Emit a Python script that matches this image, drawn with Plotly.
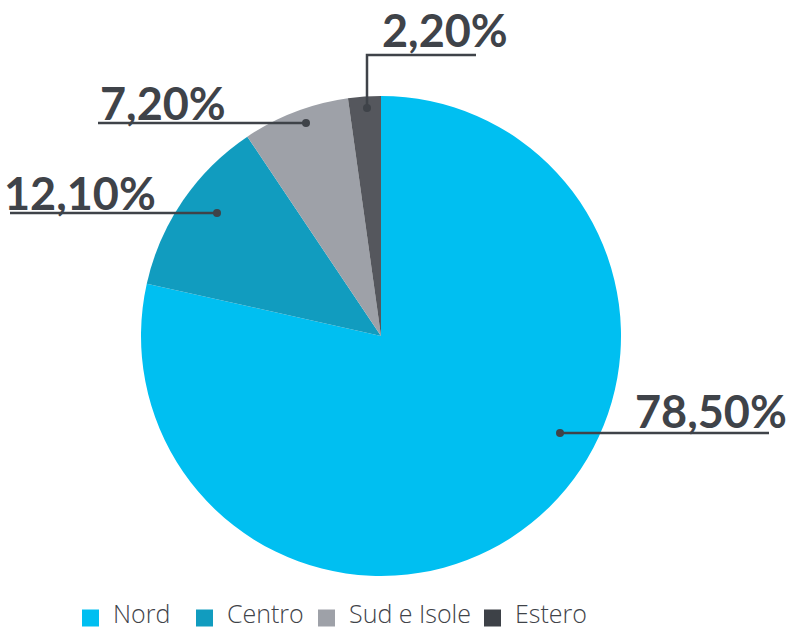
import plotly.graph_objects as go

# ==================================
# DATA
# ==================================

regions = ["Nord", "Centro", "Sud e Isole", "Estero"]
shares = [78.5, 12.1, 7.2, 2.2]
share_labels = ["78,50%", "12,10%", "7,20%", "2,20%"]
colors = ["#00bff1", "#119cbf", "#9ea1a8", "#55575d"]
legend_colors = ["#00bff1", "#119cbf", "#9ea1a8", "#3d4147"]

W, H = 793, 632
TEXT = "#3f4349"

# callouts in pixel space: dot, elbow points, label centre
callouts = {
    "78,50%": dict(path=[(560, 433), (769, 433)], text=(711, 411)),
    "12,10%": dict(path=[(217, 213), (10, 213)], text=(80, 193)),
    "7,20%": dict(path=[(306, 123), (98, 123)], text=(163, 103)),
    "2,20%": dict(path=[(367, 108), (367, 55), (476, 55)], text=(445, 30)),
}

# legend swatch left edges (px) and row centre
legend_x = [82, 196, 318, 484]
legend_y = 618
SWATCH = 17


def px_(x):
    return x / W


def py_(y):
    return 1 - y / H


# ==================================
# PIE
# ==================================

fig = go.Figure()

fig.add_trace(go.Pie(
    labels=regions,
    values=shares,
    sort=False,
    direction="clockwise",
    rotation=0,
    textinfo="none",
    hoverinfo="label+percent",
    marker=dict(colors=colors, line=dict(width=0)),
    domain=dict(x=[px_(141), px_(621)], y=[py_(576), py_(96)]),
    showlegend=False,
))

# ==================================
# CALLOUTS
# ==================================

for label in share_labels:
    c = callouts[label]
    pts = c["path"]
    d = "M " + " L ".join(f"{px_(x)},{py_(y)}" for x, y in pts)
    fig.add_shape(type="path", path=d, xref="paper", yref="paper",
                  line=dict(color=TEXT, width=2.5))
    dx, dy = pts[0]
    r = 4
    fig.add_shape(type="circle", xref="paper", yref="paper",
                  x0=px_(dx - r), x1=px_(dx + r), y0=py_(dy + r), y1=py_(dy - r),
                  fillcolor=TEXT, line=dict(width=0))
    tx, ty = c["text"]
    fig.add_annotation(
        x=px_(tx), y=py_(ty), xref="paper", yref="paper",
        text=f"<b>{label}</b>", showarrow=False,
        xanchor="center", yanchor="middle",
        font=dict(family="Lato", size=45, color=TEXT, weight=900),
    )

# ==================================
# LEGEND
# ==================================

for name, col, lx in zip(regions, legend_colors, legend_x):
    fig.add_shape(type="rect", xref="paper", yref="paper",
                  x0=px_(lx), x1=px_(lx + SWATCH),
                  y0=py_(legend_y + SWATCH / 2), y1=py_(legend_y - SWATCH / 2),
                  fillcolor=col, line=dict(width=0))
    fig.add_annotation(
        x=px_(lx + SWATCH + 12), y=0, xref="paper", yref="paper",
        text=name, showarrow=False, xanchor="left", yanchor="bottom",
        font=dict(family="Open Sans", size=25, color=TEXT, weight=300),
    )

fig.update_layout(
    width=W,
    height=H,
    margin=dict(l=0, r=0, t=0, b=0),
    paper_bgcolor="white",
    plot_bgcolor="white",
    showlegend=False,
)

fig.write_html(
    "out.html",
    config={"displayModeBar": False},
    post_script="document.body.style.margin='0';document.body.style.overflow='hidden';",
)
